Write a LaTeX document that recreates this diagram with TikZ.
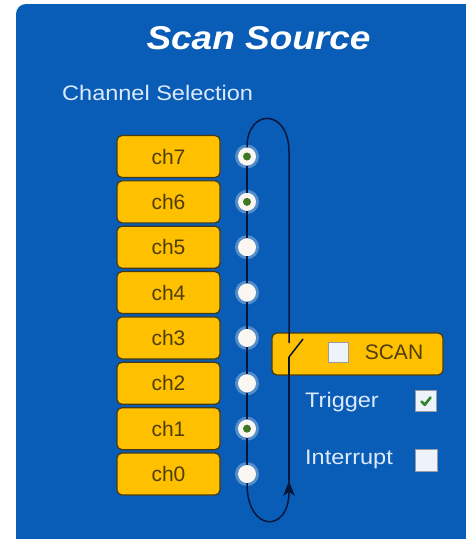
\documentclass[tikz,border=0pt]{standalone}
\usepackage{fontspec}
\setmainfont{Liberation Sans}
\newfontfamily\widesans[FakeStretch=1.12]{Liberation Sans}
\definecolor{panelblue}{RGB}{10,93,182}
\definecolor{amber}{RGB}{255,192,0}
\definecolor{amberline}{RGB}{70,58,20}
\definecolor{amberink}{RGB}{78,62,8}
\definecolor{wirenavy}{RGB}{8,22,60}
\definecolor{lampwhite}{RGB}{250,246,242}
\definecolor{lampgreen}{RGB}{62,118,34}
\definecolor{palelabel}{RGB}{220,234,252}
\definecolor{boxwhite}{RGB}{238,242,250}
\definecolor{boxedge}{RGB}{150,155,165}
\definecolor{tickgreen}{RGB}{46,132,38}

\begin{document}
\begin{tikzpicture}[x=1pt,y=-1pt,
  chbox/.style={draw=amberline, line width=1.2pt, fill=amber, rounded corners=5pt,
    minimum width=103pt, minimum height=42pt, inner sep=0pt, text=amberink,
    font=\fontsize{21}{24}\selectfont},
  lamp/.style={circle, fill=lampwhite, minimum size=18pt, inner sep=0pt},
  halo/.style={circle, fill=white, opacity=0.3, minimum size=24pt, inner sep=0pt},
  greendot/.style={circle, fill=lampgreen, minimum size=8pt, inner sep=0pt},
  wire/.style={draw=wirenavy, line width=1.5pt},
  sidelabel/.style={text=palelabel, inner sep=0pt, font=\widesans\fontsize{21}{24}\selectfont},
  checkbox/.style={draw=boxedge, line width=0.6pt, fill=boxwhite, minimum size=21pt, inner sep=0pt}
]
\useasboundingbox (0,0) rectangle (466,539);
\fill[white] (0,0) rectangle (466,539);

% panel with a rounded top-left corner
\fill[panelblue] (16,539) [rounded corners=10pt] -- (16,4) [sharp corners] -- (466,4) -- (466,539) -- cycle;

% titles
\node[anchor=base, text=white, inner sep=0pt,
  font=\widesans\bfseries\itshape\fontsize{33}{36}\selectfont] (title) at (258.5,49) {Scan Source};
\node[sidelabel, anchor=base west] (chsel) at (62,100) {Channel Selection};

% scan switch box
\node[chbox, minimum width=171pt] (scanbox) at (357.5,354) {};
\node[checkbox, minimum size=20pt, fill=boxwhite] (scancheck) at (338,352) {};
\node[text=amberink, inner sep=0pt, font=\fontsize{21}{24}\selectfont] (scantext) at (394,352) {SCAN};

% channel boxes and lamps
\foreach \k in {0,...,7} {
  \pgfmathsetmacro{\yy}{156.5+45.36*(7-\k)}
  \node[chbox] (ch\k) at (168.5,\yy) {ch\k};
  \node[halo] (h\k) at (247,\yy) {};
  \node[lamp] (c\k) at (247,\yy) {};
}
\foreach \k in {7,6,1} { \node[greendot] (g\k) at (c\k) {}; }

% lamps chained together
\foreach \k [evaluate=\k as \j using int(\k-1)] in {7,...,1} {
  \draw[wire] (c\k) -- (c\j);
}

% scan loop
\coordinate (loopright) at (289,152);
\coordinate (swtop) at (289,343);
\coordinate (swpivot) at (289,357);
\coordinate (swblade) at (303,339);
\coordinate (arrowtip) at (289,481);
\coordinate (arrowbase) at (289,492);
\draw[wire] (c7.north) .. controls (247,108) and (289,108) .. (loopright) -- (swtop);
\draw[wire] (swpivot) -- (swblade);
\draw[wire] (arrowtip) -- (swpivot);
\draw[wire] (c0.south) .. controls (247,533) and (289,533) .. (arrowbase) -- (arrowtip);
% upward arrowhead on the return leg
\fill[wirenavy] (arrowtip) -- ++(-6,15) -- ++(6,-4) -- ++(6,4) -- cycle;

% trigger and interrupt options
\node[sidelabel, anchor=base west] (trig) at (305,407) {Trigger};
\node[checkbox] (trigbox) at (426,401) {};
\draw[tickgreen, line width=2.6pt, line cap=round, line join=round]
  ([shift={(-4.5,0.5)}]trigbox.center) -- ([shift={(-1.2,3.8)}]trigbox.center) -- ([shift={(4.5,-3.5)}]trigbox.center);
\node[sidelabel, anchor=base west] (intr) at (305,464) {Interrupt};
\node[checkbox, minimum size=22pt] (intrbox) at (426.5,460) {};
\end{tikzpicture}
\end{document}
